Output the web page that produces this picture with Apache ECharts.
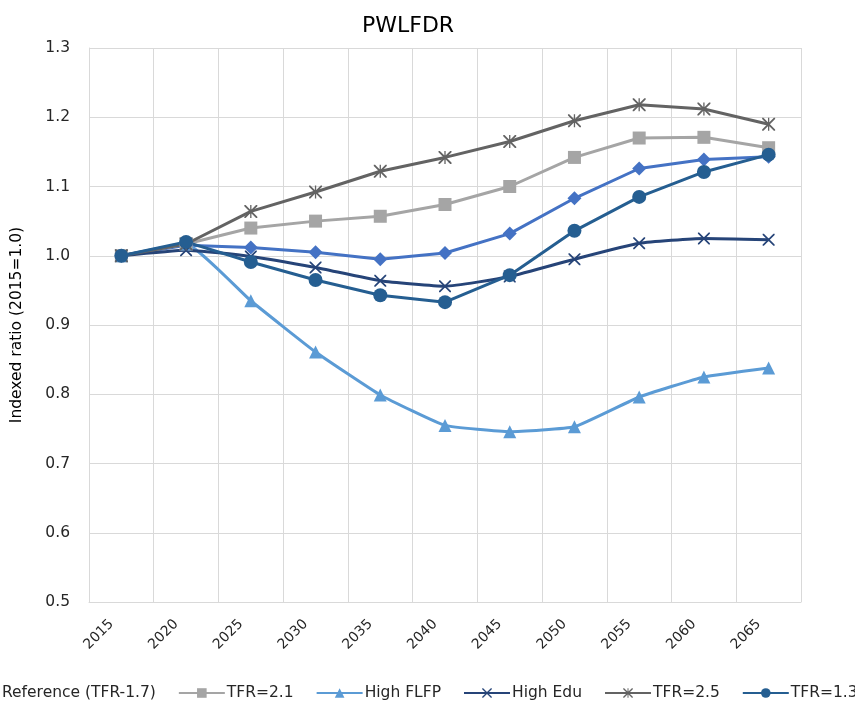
<!DOCTYPE html>
<html>
<head>
<meta charset="utf-8">
<script src="https://cdn.jsdelivr.net/npm/echarts@6/dist/echarts.min.js"></script>
<style>
  html, body { margin: 0; padding: 0; background: #fff; }
  #chart { width: 855px; height: 713px; }
</style>
</head>
<body>
<div id="chart"></div>
<script>
// data
const years = ['2015', '2020', '2025', '2030', '2035', '2040', '2045', '2050', '2055', '2060', '2065']
const reference = [1.000, 1.015, 1.012, 1.005, 0.995, 1.004, 1.032, 1.083, 1.126, 1.139, 1.143]
const tfr21 = [1.000, 1.017, 1.040, 1.050, 1.057, 1.074, 1.100, 1.142, 1.170, 1.171, 1.156]
const highFlfp = [1.000, 1.017, 0.935, 0.861, 0.799, 0.755, 0.746, 0.753, 0.796, 0.825, 0.838]
const highEdu = [1.000, 1.008, 0.999, 0.983, 0.964, 0.956, 0.970, 0.995, 1.018, 1.025, 1.023]
const tfr25 = [1.000, 1.017, 1.064, 1.092, 1.122, 1.142, 1.165, 1.195, 1.218, 1.212, 1.190]
const tfr13 = [1.000, 1.020, 0.991, 0.965, 0.943, 0.933, 0.972, 1.036, 1.085, 1.121, 1.146]

const font = '"DejaVu Sans", sans-serif'
// x marker and star marker as filled paths
const xMark = 'path://M0,0L2,0L10,8L18,0L20,0L20,2L12,10L20,18L20,20L18,20L10,12L2,20L0,20L0,18L8,10L0,2Z'
const starMark = 'path://M0,0L2,0L10,8L18,0L20,0L20,2L12,10L20,18L20,20L18,20L10,12L2,20L0,20L0,18L8,10L0,2ZM9,0L11,0L11,20L9,20Z'

function line (name, data, color, symbol, size, smooth) {
    return {
        name: name,
        type: 'line',
        data: data,
        smooth: smooth || false,
        symbol: symbol,
        symbolSize: size,
        showAllSymbol: true,
        lineStyle: { color: color, width: 3 },
        itemStyle: { color: color },
        emphasis: { disabled: true }
    }
}

const chart = echarts.init(document.getElementById('chart'))
chart.setOption({
    animation: false,
    backgroundColor: '#fff',
    title: {
        text: 'PWLFDR',
        left: 357,
        top: 10,
        textStyle: {
            fontFamily: font,
            fontSize: 22,
            fontWeight: 'normal',
            color: '#000'
        }
    },
    grid: {
        left: 89,
        right: 54,
        top: 48,
        bottom: 111,
        containLabel: false
    },
    legend: {
        left: -52,
        top: 680,
        width: 1100,
        itemWidth: 46,
        itemHeight: 12,
        itemGap: 22,
        textStyle: { fontFamily: font, fontSize: 15.5, color: '#262626', padding: [0, 0, 0, -3] },
        data: ['Reference (TFR-1.7)', 'TFR=2.1', 'High FLFP', 'High Edu', 'TFR=2.5', 'TFR=1.3']
    },
    xAxis: {
        type: 'category',
        data: years,
        boundaryGap: true,
        axisLine: { show: true, lineStyle: { color: '#D9D9D9', width: 1 } },
        axisTick: { show: false },
        splitLine: { show: true, lineStyle: { color: '#D9D9D9', width: 1 } },
        axisLabel: {
            rotate: 45,
            margin: 10,
            fontFamily: font,
            fontSize: 14,
            color: '#262626',
            // trailing spacer pushes the rotated label down-left like the reference
            formatter: function (v) { return '{t|' + v + '}{s|}' },
            rich: {
                t: { fontFamily: font, fontSize: 14, color: '#262626' },
                s: { width: 14 }
            }
        }
    },
    yAxis: {
        type: 'value',
        min: 0.5,
        max: 1.3,
        interval: 0.1,
        name: 'Indexed ratio (2015=1.0)',
        nameLocation: 'middle',
        nameGap: 64,
        nameTextStyle: { fontFamily: font, fontSize: 15.5, color: '#000' },
        axisLine: { show: true, lineStyle: { color: '#D9D9D9', width: 1 } },
        axisTick: { show: false },
        splitLine: { show: true, lineStyle: { color: '#D9D9D9', width: 1 } },
        axisLabel: {
            margin: 19,
            fontFamily: font,
            fontSize: 15.5,
            color: '#262626',
            formatter: function (v) { return v.toFixed(1) }
        }
    },
    series: [
        line('Reference (TFR-1.7)', reference, '#4472C4', 'diamond', 14),
        line('TFR=2.1', tfr21, '#A5A5A5', 'rect', 13),
        line('High FLFP', highFlfp, '#5B9BD5', 'triangle', 13, 0.12),
        line('High Edu', highEdu, '#264478', xMark, 12, 0.15),
        line('TFR=2.5', tfr25, '#636363', starMark, 13),
        line('TFR=1.3', tfr13, '#255E91', 'circle', 14)
    ]
})
</script>
</body>
</html>
